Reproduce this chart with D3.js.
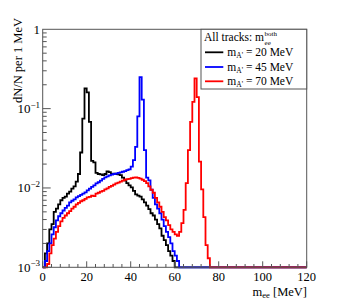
<!DOCTYPE html>
<html><head><meta charset="utf-8">
<script src="https://cdn.jsdelivr.net/npm/d3@7"></script>
<style>html,body{margin:0;padding:0;background:#fff}svg{display:block}svg text{font-family:"Liberation Serif","DejaVu Serif",serif}</style>
</head><body><svg id="c" width="341" height="298" font-family="Liberation Serif, DejaVu Serif, serif"></svg>
<script>
// 1 MeV bins starting at 0 MeV; empty bins afterwards
const black20 = [0,0.0015,0.002,0.003,0.0035,0.005,0.0055,0.0062,0.007,0.0075,0.0078,0.0085,0.009,0.0098,0.0105,0.012,0.015,0.028,0.075,0.18,0.16,0.068,0.022,0.021,0.0155,0.015,0.0148,0.0145,0.015,0.0162,0.0158,0.015,0.0152,0.015,0.0148,0.0145,0.0135,0.0125,0.0115,0.0108,0.0102,0.0092,0.0083,0.008,0.0078,0.0072,0.0066,0.006,0.0054,0.0048,0.0045,0.004,0.0035,0.0031,0.0025,0.0022,0.0019,0.0016,0.0014,0.0012,0.0008];
const blue45 = [0,0.0012,0.0016,0.002,0.0026,0.0032,0.0039,0.0044,0.0048,0.0052,0.0056,0.006,0.0066,0.0069,0.0072,0.0076,0.0079,0.0082,0.0085,0.0088,0.0093,0.0098,0.0103,0.0108,0.0114,0.0118,0.0124,0.013,0.0136,0.014,0.0144,0.0147,0.015,0.0152,0.0155,0.0157,0.016,0.0163,0.0168,0.0172,0.0186,0.0225,0.033,0.08,0.25,0.13,0.03,0.0135,0.0125,0.0095,0.0075,0.0062,0.0055,0.0048,0.004,0.0033,0.0028,0.0024,0.002,0.0016,0.0014,0.0012,0.0008];
const red70 = [0,0,0.0011,0.0015,0.0019,0.0023,0.0028,0.0033,0.0038,0.0042,0.0045,0.0048,0.0051,0.0055,0.0058,0.0062,0.0065,0.0068,0.007,0.0073,0.0076,0.0077,0.008,0.0079,0.0085,0.0087,0.009,0.0092,0.0096,0.0099,0.0103,0.0106,0.011,0.0114,0.0117,0.012,0.0124,0.0127,0.0129,0.013,0.0133,0.0135,0.0136,0.0134,0.0131,0.0127,0.0122,0.0115,0.0105,0.0095,0.0087,0.0075,0.0066,0.0058,0.005,0.0043,0.0039,0.0034,0.003,0.0028,0.0026,0.0025,0.0028,0.0036,0.0053,0.0115,0.03,0.068,0.122,0.24,0.14,0.0215,0.0096,0.0043,0.0019,0.0013,0];
const seriesNames = ["20 MeV","45 MeV","70 MeV"];
const seriesColors = ["#000000","#0000ff","#ff0000"];
const xTicks = [0,20,40,60,80,100,120];
const yDecades = [["1",""],["10","\u22121"],["10","\u22122"],["10","\u22123"]];

const svg = d3.select("#c");
const L=42.7,R=306.7,T=29.3,B=267.3;
const x = d3.scaleLinear().domain([0,120]).range([L,R]);
const y = d3.scaleLog().domain([1e-3,1]).range([B,T]);
const ymin = 1e-3;

// histograms
const line = d3.line().x(d=>x(d[0])).y(d=>y(Math.max(d[1],ymin))).curve(d3.curveStepAfter);
[black20,blue45,red70].forEach((vals,k)=>{
  const pts = vals.map((v,i)=>[i,v]);
  pts.push([vals.length,0]);
  pts.push([120,0]);
  svg.append("path").attr("d",line(pts)).attr("fill","none")
    .attr("stroke",seriesColors[k]).attr("stroke-width",1.8);
});

// frame
const frameCol="#555";
svg.append("rect").attr("x",L).attr("y",T).attr("width",R-L).attr("height",B-T)
  .attr("fill","none").attr("stroke",frameCol).attr("stroke-width",1);

// x ticks (inward)
for(let v=0; v<=120; v+=4){
  const major = v%20===0;
  svg.append("line").attr("x1",x(v)).attr("x2",x(v)).attr("y1",B).attr("y2",B-(major?6:3.3))
    .attr("stroke",frameCol).attr("stroke-width",1);
}
xTicks.forEach(v=>{
  svg.append("text").attr("x",x(v)).attr("y",281).attr("text-anchor","middle")
    .attr("font-size",12.5).attr("fill","#000").text(v);
});
// y ticks
[1e-3,1e-2,1e-1].forEach(d=>{
  for(let m=1;m<=9;m++){
    const v=d*m;
    svg.append("line").attr("x1",L).attr("x2",L+(m===1?8:4)).attr("y1",y(v)).attr("y2",y(v))
      .attr("stroke",frameCol).attr("stroke-width",1);
  }
});
yDecades.forEach((lab,i)=>{
  const yy = y(Math.pow(10,-i));
  const t = svg.append("text").attr("x",40).attr("y",yy+4.5).attr("text-anchor","end")
    .attr("font-size",13).attr("fill","#000");
  t.append("tspan").text(lab[0]);
  if(lab[1]) t.append("tspan").attr("font-size",9).attr("dy",-5.5).text(lab[1]);
});

// axis titles
svg.append("text").attr("transform","translate(22,18) rotate(-90)").attr("text-anchor","end")
  .attr("font-size",12.5).attr("fill","#000").text("dN/N per 1 MeV");
const xt = svg.append("text").attr("x",307).attr("y",295.5).attr("text-anchor","end").attr("font-size",12.5).attr("fill","#000");
xt.append("tspan").text("m");
xt.append("tspan").attr("font-size",8.5).attr("dy",2).text("ee");
xt.append("tspan").attr("dy",-2).text(" [MeV]");

// legend
const lg = svg.append("g");
lg.append("rect").attr("x",201).attr("y",T).attr("width",R-201).attr("height",89-T)
  .attr("fill","#fff").attr("stroke",frameCol).attr("stroke-width",1);
const tt = lg.append("text").attr("x",204).attr("y",41).attr("font-size",11.5).attr("fill","#000").text("All tracks: m");
const tw = tt.node().getComputedTextLength();
lg.append("text").attr("x",204+tw+0.5).attr("y",36).attr("font-size",7).attr("fill","#000").text("both");
lg.append("text").attr("x",204+tw+0.5).attr("y",44.5).attr("font-size",7).attr("fill","#000").text("ee");
const rowsY=[52.3,67,81.3];
seriesNames.forEach((n,i)=>{
  lg.append("line").attr("x1",205).attr("x2",223.3).attr("y1",rowsY[i]).attr("y2",rowsY[i])
    .attr("stroke",seriesColors[i]).attr("stroke-width",1.8);
  const t = lg.append("text").attr("x",227.3).attr("y",rowsY[i]+3.5).attr("font-size",11.5).attr("fill","#000");
  t.append("tspan").text("m");
  t.append("tspan").attr("font-size",7.5).attr("dy",2.5).text("A'");
  t.append("tspan").attr("dy",-2.5).text(" = "+n);
});
</script></body></html>
